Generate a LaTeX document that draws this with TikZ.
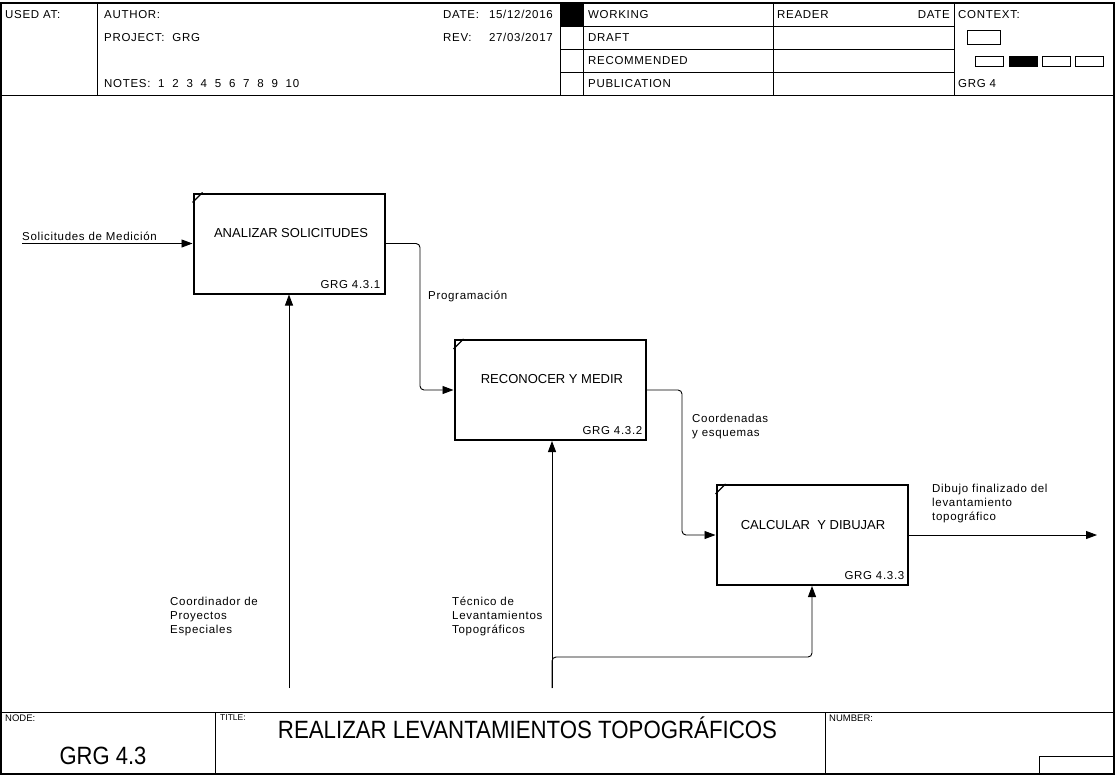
\documentclass[tikz,border=0pt]{standalone}
\usepackage{fontspec}
\usepackage{graphicx}
\setmainfont{Liberation Sans}
\newfontfamily\lblfont[LetterSpace=6]{Liberation Sans}
\usetikzlibrary{arrows.meta}
\begin{document}
\begin{tikzpicture}[x=1pt,y=-1pt,
  frame/.style={line width=1.2pt},
  grid/.style={line width=0.9pt},
  actbox/.style={draw, line width=2pt, minimum width=191pt, minimum height=100pt, inner sep=0pt},
  flow/.style={line width=0.9pt, rounded corners=4pt, -{Triangle[length=11pt,width=8pt]}},
  lbl/.style={font=\lblfont\fontsize{11.5}{14}\selectfont, inner sep=0pt, align=left},
  boxtitle/.style={font=\fontsize{13}{15}\selectfont, inner sep=0pt},
  tiny/.style={font=\fontsize{9.5}{11}\selectfont, inner sep=0pt, anchor=north west},
  bigtxt/.style={font=\fontsize{25}{30}\selectfont, inner sep=0pt},
]
\useasboundingbox (0,0) rectangle (1115,776);
% ---------- outer frame ----------
\draw[frame] (1,3) rectangle (1114,774);
% ---------- header ----------
\draw[grid] (1,95) -- (1114,95);
\draw[grid] (97,3) -- (97,95);
\draw[grid] (560,3) -- (560,95);
\draw[grid] (583,3) -- (583,95);
\draw[grid] (773,3) -- (773,95);
\draw[grid] (954,3) -- (954,95);
\draw[grid] (560,26) -- (954,26);
\draw[grid] (560,49) -- (954,49);
\draw[grid] (560,72) -- (954,72);
\fill (560,3) rectangle (583,26);
\draw[line width=0.8pt] (967,30) rectangle (1000,44);
\draw[line width=0.8pt] (975,56) rectangle (1003,66);
\filldraw[line width=0.8pt] (1009,56) rectangle (1037,66);
\draw[line width=0.8pt] (1042,56) rectangle (1070,66);
\draw[line width=0.8pt] (1075,56) rectangle (1103,66);
\node[lbl, anchor=west] (usedat) at (5,14.5) {USED AT:};
\node[lbl, anchor=west] (author) at (104,14.5) {AUTHOR:};
\node[lbl, anchor=west] (project) at (104,37.5) {PROJECT:~~GRG};
\node[lbl, anchor=west] (notes) at (104,83.5) {NOTES:~~1~~2~~3~~4~~5~~6~~7~~8~~9~~10};
\node[lbl, anchor=west] (datek) at (443,14.5) {DATE:};
\node[lbl, anchor=east] (datev) at (553,14.5) {15/12/2016};
\node[lbl, anchor=west] (revk) at (443,37.5) {REV:};
\node[lbl, anchor=east] (revv) at (553,37.5) {27/03/2017};
\node[lbl, anchor=west] (working) at (588,14.5) {WORKING};
\node[lbl, anchor=west] (draft) at (588,37.5) {DRAFT};
\node[lbl, anchor=west] (recom) at (588,60.5) {RECOMMENDED};
\node[lbl, anchor=west] (publ) at (588,83.5) {PUBLICATION};
\node[lbl, anchor=west] (reader) at (777,14.5) {READER};
\node[lbl, anchor=east] (rdate) at (950,14.5) {DATE};
\node[lbl, anchor=west] (context) at (958,14.5) {CONTEXT:};
\node[lbl, anchor=west] (grg4) at (958,83.5) {GRG 4};
% ---------- footer ----------
\draw[grid] (1,712) -- (1114,712);
\draw[grid] (215,712) -- (215,774);
\draw[grid] (825,712) -- (825,774);
\draw[grid] (1039,756) rectangle (1114,774);
\node[tiny] (nodek) at (5,715) {NODE:};
\node[tiny, font=\fontsize{8.5}{10}\selectfont] (titlek) at (220,714) {TITLE:};
\node[tiny] (numberk) at (829,715) {NUMBER:};
\node[bigtxt] (nodev) at (103,756) {\scalebox{0.88}[1]{GRG 4.3}};
\node[bigtxt] (titlev) at (527.5,728) {\scalebox{0.89}[1]{REALIZAR LEVANTAMIENTOS TOPOGRÁFICOS}};
% ---------- activity boxes ----------
\node[actbox] (b1) at (289,243.5) {};
\node[actbox] (b2) at (550,390) {};
\node[actbox] (b3) at (812,535) {};
\foreach \b in {b1,b2,b3}{
  \draw[line width=1.2pt] ([yshift=-10pt]\b.north west) -- ([xshift=10pt]\b.north west);
}
\node[boxtitle] (t1) at ([xshift=2pt,yshift=-41pt]b1.north) {ANALIZAR SOLICITUDES};
\node[boxtitle] (t2) at ([xshift=2pt,yshift=-40pt]b2.north) {RECONOCER Y MEDIR};
\node[boxtitle] (t3) at ([xshift=1pt,yshift=-41pt]b3.north) {CALCULAR~~Y DIBUJAR};
\node[lbl, anchor=base east] (id1) at ([xshift=-5pt,yshift=6.5pt]b1.south east) {GRG 4.3.1};
\node[lbl, anchor=base east] (id2) at ([xshift=-4pt,yshift=6.5pt]b2.south east) {GRG 4.3.2};
\node[lbl, anchor=base east] (id3) at ([xshift=-4pt,yshift=6.5pt]b3.south east) {GRG 4.3.3};
% ---------- connectors ----------
\coordinate (in1) at (22,243.5);
\coordinate (j1) at (420,0);
\coordinate (j2) at (682,0);
\coordinate (out3) at (1097,535);
\coordinate (m1) at (289,688);
\coordinate (m2) at (552,688);
\coordinate (m3) at (552,657);
\draw[flow] (in1) -- (b1.west);
\draw[flow] (b1.east) -- (b1.east -| j1) |- (b2.west);
\draw[flow] (b2.east) -- (b2.east -| j2) |- (b3.west);
\draw[flow] (b3.east) -- (out3);
\draw[flow] (m1) -- (b1.south);
\draw[flow] (m2) -- (m2 |- b2.south);
\draw[flow] (m2) |- (b3.south |- m3) -- (b3.south);
% ---------- connector labels ----------
\node[lbl, anchor=base west] (l1) at (22,240) {Solicitudes de Medición};
\node[lbl, anchor=west] (l2) at (428,296) {Programación};
\node[lbl, anchor=north west] (l3) at (692,414) {Coordenadas\\y esquemas};
\node[lbl, anchor=north west] (l4) at (932,484) {Dibujo finalizado del\\levantamiento\\topográfico};
\node[lbl, anchor=north west] (l5) at (170,597) {Coordinador de\\Proyectos\\Especiales};
\node[lbl, anchor=north west] (l6) at (452,597) {Técnico de\\Levantamientos\\Topográficos};
\end{tikzpicture}
\end{document}
